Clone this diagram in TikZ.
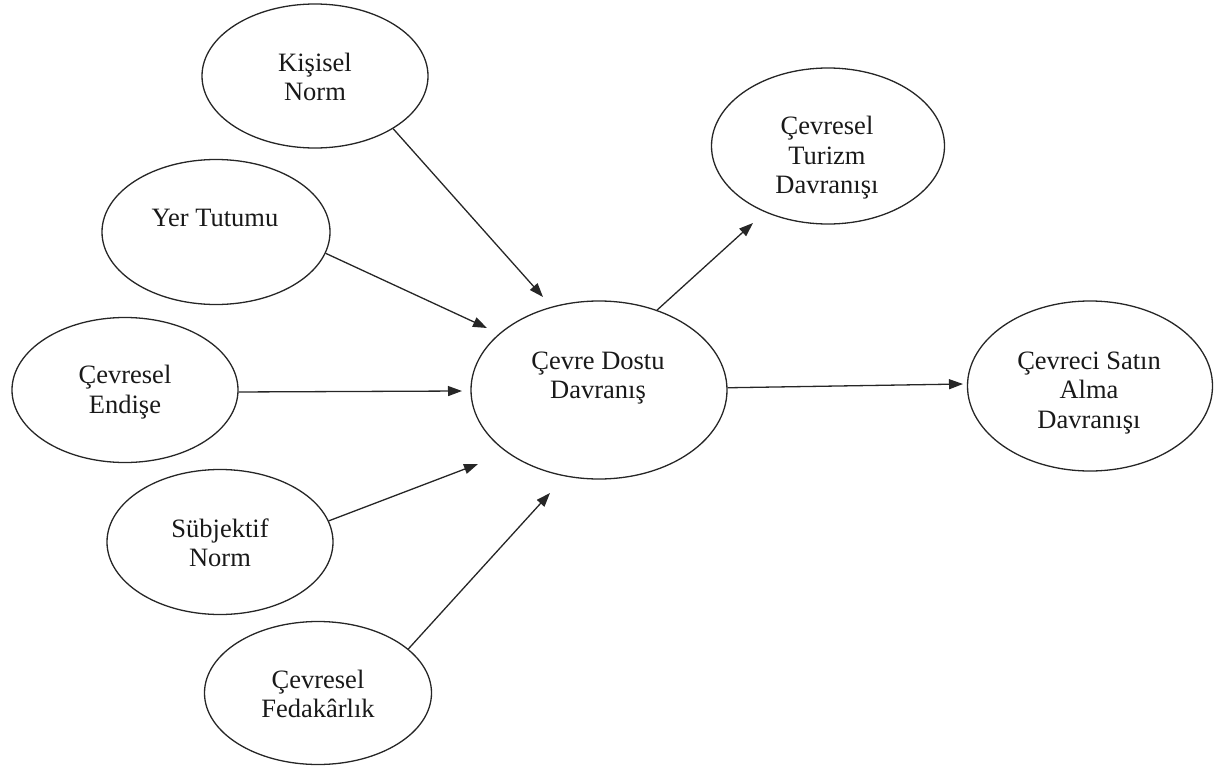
\documentclass[tikz,border=0pt]{standalone}
\usepackage{fontspec}
\setmainfont{Liberation Serif}
\newfontfamily\capfont{Liberation Serif}
\usetikzlibrary{shapes.geometric,arrows.meta}
\begin{document}
\begin{tikzpicture}[x=1pt,y=-1pt,
  construct/.style={draw=black!85,line width=1.3pt,ellipse,inner sep=0pt},
  caption/.style={align=center,font=\capfont\fontsize{26.5}{29.5}\selectfont,inner sep=0pt,text=black!90},
  link/.style={draw=black!85,line width=1.3pt,-{Triangle[length=14pt,width=10pt]}}]
\useasboundingbox (0,0) rectangle (1219,771);
% construct ellipses
\node[construct,minimum width=226pt,minimum height=144pt] (kisisel) at (315,76) {};
\node[construct,minimum width=228pt,minimum height=145pt] (yer) at (216,232) {};
\node[construct,minimum width=226pt,minimum height=145pt] (endise) at (125,390) {};
\node[construct,minimum width=226pt,minimum height=145pt] (subjektif) at (220,542) {};
\node[construct,minimum width=227pt,minimum height=143pt] (fedakarlik) at (318,693) {};
\node[construct,minimum width=256pt,minimum height=178pt] (dostu) at (599,390) {};
\node[construct,minimum width=233pt,minimum height=156pt] (turizm) at (828,146) {};
\node[construct,minimum width=245pt,minimum height=170pt] (satin) at (1090,386) {};
% labels
\node[caption] (tkisisel) at (315,77) {Kişisel\\Norm};
\node[caption] (tyer) at (215,218) {Yer Tutumu};
\node[caption] (tendise) at (125,392) {Çevresel\\Endişe};
\node[caption] (tsubjektif) at (220,543) {Sübjektif\\Norm};
\node[caption] (tfedakarlik) at (318,694) {Çevresel\\Fedakârlık};
\node[caption] (tdostu) at (598,378) {Çevre Dostu\\Davranış};
\node[caption] (tturizm) at (827,158) {Çevresel\\Turizm\\Davranışı};
\node[caption] (tsatin) at (1089,393) {Çevreci Satın\\Alma\\Davranışı};
% arrow tips
\coordinate (p1) at (543,297);
\coordinate (p2) at (487,328);
\coordinate (p3) at (462,391);
\coordinate (p4) at (478,464);
\coordinate (p5) at (550,493);
\coordinate (p6) at (753,223);
\coordinate (p7) at (963,384);
% connectors
\draw[link] (kisisel.-34) -- (p1);
\draw[link] (yer.-11) -- (p2);
\draw[link] (endise.-1.5) -- (p3);
\draw[link] (subjektif.11) -- (p4);
\draw[link] (fedakarlik.26) -- (p5);
\draw[link] (dostu.54) -- (p6);
\draw[link] (dostu.1.5) -- (p7);
\end{tikzpicture}
\end{document}
